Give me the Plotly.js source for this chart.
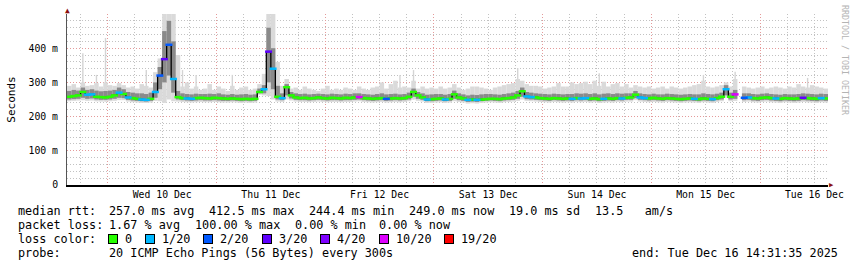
<!DOCTYPE html>
<html><head><meta charset="utf-8">
<script src="https://cdn.plot.ly/plotly-3.0.1.min.js"></script>
<style>html,body{margin:0;padding:0;background:#fff}#chart{width:857px;height:267px}</style>
</head><body><div id="chart"></div>
<script>
// ---- data (ms), one value per hour starting 2025-12-09 15:00 ----
const startTime = '2025-12-09T15:00:00Z';
const rangeStart = '2025-12-09 15:00';
const rangeEnd = '2025-12-16 15:00';

const median = [258,260,262,272,264,265,258,257,256,258,
 262,270,266,256,254,252,250,249,252,272,
 320,368,410,310,257,254,253,252,254,255,
 254,253,255,254,253,252,253,252,251,252,
 251,252,272,280,390,340,258,254,286,262,
 256,254,255,253,254,256,254,253,255,254,
 253,255,254,256,257,254,253,252,253,254,
 252,253,254,253,254,258,272,262,256,250,
 251,252,253,250,252,265,256,253,249,250,
 249,250,251,252,252,251,253,254,256,262,
 274,259,257,256,254,253,252,254,253,252,
 253,252,254,253,254,252,253,251,252,253,
 252,254,253,255,256,264,256,254,253,255,
 253,252,254,253,252,251,252,253,252,251,
 253,252,251,254,258,280,258,265,null,255,
 256,254,253,255,256,254,253,252,254,253,
 252,253,255,254,253,252,254,253];

const lossCount = [0,0,0,0,1,1,0,0,0,0,
 0,1,0,1,0,0,1,1,0,1,
 2,3,2,1,0,0,1,1,0,0,
 0,0,0,0,0,0,0,0,0,0,
 0,0,0,1,3,1,0,1,0,0,
 0,0,0,0,0,0,0,0,0,0,
 0,0,0,0,10,0,0,0,0,0,
 2,0,0,0,0,0,0,0,0,1,
 0,0,0,1,0,0,0,0,1,0,
 1,0,0,0,0,0,0,0,0,0,
 0,1,1,0,0,0,0,0,0,0,
 0,1,0,1,1,0,0,0,1,0,
 0,0,1,0,0,0,1,1,0,0,
 0,0,0,0,0,0,0,0,1,0,
 0,0,1,0,0,1,0,10,null,2,
 1,0,0,0,0,0,1,0,0,0,
 0,0,3,0,0,0,1,0];

const smokeMax = [290,295,285,300,290,292,298,288,300,292,
 290,298,292,285,288,282,295,290,285,330,
 370,500,500,500,380,288,300,282,288,278,
 282,295,278,288,282,275,290,278,285,288,
 278,282,295,325,500,500,360,290,310,282,
 285,278,288,282,278,275,282,290,278,282,
 278,285,282,278,288,282,278,285,288,300,
 282,295,305,285,288,285,305,282,288,282,
 285,282,288,282,285,295,285,278,282,288,
 288,285,282,278,285,288,292,295,298,310,
 305,295,290,290,288,282,285,288,298,288,
 288,300,295,298,302,295,305,290,302,288,
 295,298,288,295,285,292,288,285,288,282,
 285,288,282,288,285,282,285,288,292,295,
 305,288,285,288,292,300,288,310,null,288,
 285,282,285,288,282,285,288,285,282,288,
 285,295,288,285,292,288,285,282];

const smokeHi = [275,278,276,285,278,280,276,274,275,276,
 278,285,280,272,270,268,268,266,270,300,
 345,450,480,420,275,268,266,265,267,266,
 266,267,266,268,265,264,266,264,265,266,
 264,265,282,292,460,400,290,268,295,272,
 268,266,267,265,266,267,266,265,267,266,
 265,267,266,268,268,266,265,264,266,268,
 265,266,267,265,266,270,282,272,268,264,
 265,266,266,264,266,276,268,265,262,264,
 263,265,266,266,265,264,266,268,270,275,
 285,272,270,268,267,266,265,267,266,265,
 266,266,268,267,268,266,268,265,267,268,
 266,268,267,268,268,275,268,266,265,267,
 265,265,267,266,265,264,265,266,265,265,
 268,266,265,267,270,292,270,278,null,268,
 268,266,265,267,268,266,265,264,266,265,
 265,266,268,267,266,265,267,266];

const smokeLo = [250,251,252,255,252,253,250,249,249,250,
 252,255,254,249,247,246,245,244,246,255,
 280,300,320,270,250,248,247,246,247,248,
 247,247,248,247,246,246,247,246,245,246,
 245,246,268,268,300,280,250,248,262,253,
 249,248,248,247,248,249,248,247,248,248,
 247,248,248,249,250,248,247,246,247,248,
 246,247,248,247,248,250,258,252,249,245,
 245,246,247,245,246,252,248,246,243,244,
 243,245,246,247,246,245,247,248,249,252,
 258,251,250,249,248,247,246,248,247,246,
 247,246,248,247,248,246,247,245,246,247,
 246,248,247,249,249,254,249,248,247,248,
 247,246,248,247,246,245,246,247,246,245,
 247,246,245,248,250,262,250,252,null,248,
 249,247,246,248,249,247,246,245,247,246,
 245,246,248,247,246,245,247,246];

const smokeMin = [245,246,247,248,246,247,245,244,244,245,
 246,248,248,244,242,241,240,240,241,246,
 245,240,250,245,244,243,242,241,242,243,
 242,242,243,242,241,241,242,241,240,241,
 240,241,264,262,260,250,244,243,250,247,
 244,243,243,242,243,244,243,242,243,243,
 242,243,243,244,245,243,242,241,242,243,
 241,242,243,242,243,245,250,246,244,240,
 240,241,242,240,241,245,243,241,238,239,
 238,240,241,242,241,240,242,243,244,246,
 250,246,245,244,243,242,241,243,242,241,
 242,241,243,242,243,241,242,240,241,242,
 241,243,242,244,244,248,244,243,242,243,
 242,241,243,242,241,240,241,242,241,240,
 242,241,240,243,245,255,245,246,null,243,
 244,242,241,243,244,242,241,240,242,241,
 240,241,243,242,241,240,242,241];

// thin single-ping outliers above the smoke
const spikeHour = [3,6,8,17,25,28,36,73,76,99,117,140,147,163];
const spikeTop  = [385,322,430,336,336,322,322,322,336,342,327,322,331,313];

const yTickVals = [0,100,200,300,400];
const yTickText = ['0','100 m','200 m','300 m','400 m'];

const lossLevels = [0,1,2,3,4,10,19];
const lossLabels = ['0','1/20','2/20','3/20','4/20','10/20','19/20'];
const lossColors = ['#26ff00','#00b8ff','#0059ff','#5e00ff','#7e00ff','#dd00ff','#ff0000'];

const rttItems  = ['median rtt:','257.0 ms avg','412.5 ms max','244.4 ms min','249.0 ms now','19.0 ms sd','13.5   am/s'];
const lossItems = ['packet loss:','1.67 % avg','100.00 % max','0.00 % min','0.00 % now'];
const colorItem = 'loss color:';
const probeItems = ['probe:','20 ICMP Echo Pings (56 Bytes) every 300s'];
const endText = 'end: Tue Dec 16 14:31:35 2025';
const watermark = 'RRDTOOL / TOBI OETIKER';

// ---- build ----
const MONO = 'DejaVu Sans Mono';
const t0 = Date.parse(startTime);
function stamp(h){ return new Date(t0 + (h + 0.5) * 3600000).toISOString().slice(0,19).replace('T',' '); }
const times = median.map((_, i) => stamp(i));
const diff = (a, b) => a.map((v, i) => (v == null || b[i] == null) ? null : v - b[i]);
const nb = s => s.replace(/ /g, '\u00a0');

const traces = [];
traces.push({type:'bar', x: spikeHour.map(h => times[h]), base: spikeHour.map(h => smokeMin[h]),
  y: spikeTop.map((v, k) => v - smokeMin[spikeHour[k]]), width: 1100000,
  marker:{color:'#d4d4d4', line:{width:0}}, hoverinfo:'skip'});
traces.push({type:'bar', x: times, base: smokeMin, y: diff(smokeMax, smokeMin), width: 3600000,
  marker:{color:'#dadada', line:{width:0}}, hoverinfo:'skip'});
traces.push({type:'bar', x: times, base: smokeLo, y: diff(smokeHi, smokeLo), width: 3600000,
  marker:{color:'#8a8a8a', line:{width:0}}, hoverinfo:'skip'});
traces.push({type:'scatter', mode:'lines', x: times, y: median, connectgaps:false,
  line:{shape:'hvh', color:'#000', width:1.3}, hoverinfo:'skip'});
function classOf(l){ let c = 0; lossLevels.forEach((lv, i) => { if (l >= lv) c = i; }); return c; }
lossLevels.forEach((lv, ci) => {
  const ys = median.map((v, i) => (v != null && lossCount[i] != null && classOf(lossCount[i]) === ci) ? v : null);
  traces.push({type:'scatter', mode:'markers', x: times, y: ys,
    marker:{symbol:'line-ew', size:5, line:{width:2.5, color: lossColors[ci]}}, hoverinfo:'skip'});
});

const L = 67, B = 185;
const ann = [];
const FS = 11.8;
function txt(s, px, py, anchor){
  ann.push({xref:'paper', yref:'paper', x: anchor === 'right' ? 1 : 0, y:0, xanchor: anchor || 'left', yanchor:'middle',
    xshift: anchor === 'right' ? px - 828 : px - L, yshift: -(py - B), text: nb(s), showarrow:false,
    font:{family:MONO, size:FS, color:'#000'}});
}
const rttX = [16,107,207,307,407,507,593];
rttItems.forEach((s, i) => txt(s, rttX[i], 211));
const lossX = [16,107,193,293,377];
lossItems.forEach((s, i) => txt(s, lossX[i], 225));
txt(colorItem, 16, 239);
txt(probeItems[0], 16, 253);
txt(probeItems[1], 107, 253);
txt(endText, 840, 253, 'right');
let bx = 108;
lossLabels.forEach((lab, i) => {
  ann.push({xref:'paper', yref:'paper', x:0, y:0, xanchor:'left', yanchor:'middle', xshift: bx - L, yshift: -(238.5 - B),
    text:'\u00a0', width:8, height:8, bgcolor: lossColors[i], bordercolor:'#000', borderwidth:1, borderpad:0,
    showarrow:false, font:{size:1}});
  txt(lab, bx + 15, 239);
  bx += 15 + 7.09 * lab.length + 15;
});
ann.push({xref:'paper', yref:'paper', x:1, y:1, xanchor:'center', yanchor:'middle', xshift: 17, yshift: -46,
  text: nb(watermark), textangle: 90, showarrow:false, font:{family:MONO, size:8.3, color:'#b4b4b4'}});
ann.push({xref:'paper', yref:'paper', x:0, y:1, xanchor:'center', yanchor:'middle', xshift: 0, yshift: 4,
  text:'\u25B2', showarrow:false, font:{family:MONO, size:8, color:'#8b1010'}});
ann.push({xref:'paper', yref:'paper', x:1, y:0, xanchor:'center', yanchor:'middle', xshift: 3, yshift: 0,
  text:'\u25B6', showarrow:false, font:{family:MONO, size:7, color:'#8b1010'}});

const layout = {
  width: 857, height: 267,
  margin: {l: L, r: 29, t: 14, b: 82, pad: 0},
  paper_bgcolor: '#fff', plot_bgcolor: '#fff',
  barmode: 'overlay', showlegend: false,
  font: {family: MONO, size: 10, color: '#000'},
  xaxis: {type:'date', range:[rangeStart, rangeEnd], tickmode:'linear', tick0:'2025-12-10', dtick: 86400000,
    ticklabelmode:'period', tickformat:'%a %d %b', tickfont:{family:MONO, size:9.8, color:'#000'},
    showgrid:true, gridcolor:'#e49a9a', griddash:'1px,2px', gridwidth:1,
    minor:{dtick: 21600000, showgrid:true, gridcolor:'#c2c2c2', griddash:'1px,2px', gridwidth:1},
    showline:true, linecolor:'#000', linewidth:1.5, zeroline:false, ticks:'', fixedrange:true},
  yaxis: {range:[0, 500], tickmode:'array', tickvals: yTickVals, ticktext: yTickText,
    tickfont:{family:MONO, size:9.8, color:'#000'},
    showgrid:true, gridcolor:'#e49a9a', griddash:'1px,2px', gridwidth:1,
    minor:{dtick: 20, showgrid:true, gridcolor:'#c2c2c2', griddash:'1px,2px', gridwidth:1},
    showline:true, linecolor:'#555', linewidth:1, zeroline:false, ticks:'', ticklabelstandoff: 6,
    title:{text:'Seconds', font:{family:MONO, size:11, color:'#000'}, standoff: 10}, fixedrange:true},
  annotations: ann
};
Plotly.newPlot('chart', traces, layout, {displayModeBar:false, staticPlot:true});
</script></body></html>
